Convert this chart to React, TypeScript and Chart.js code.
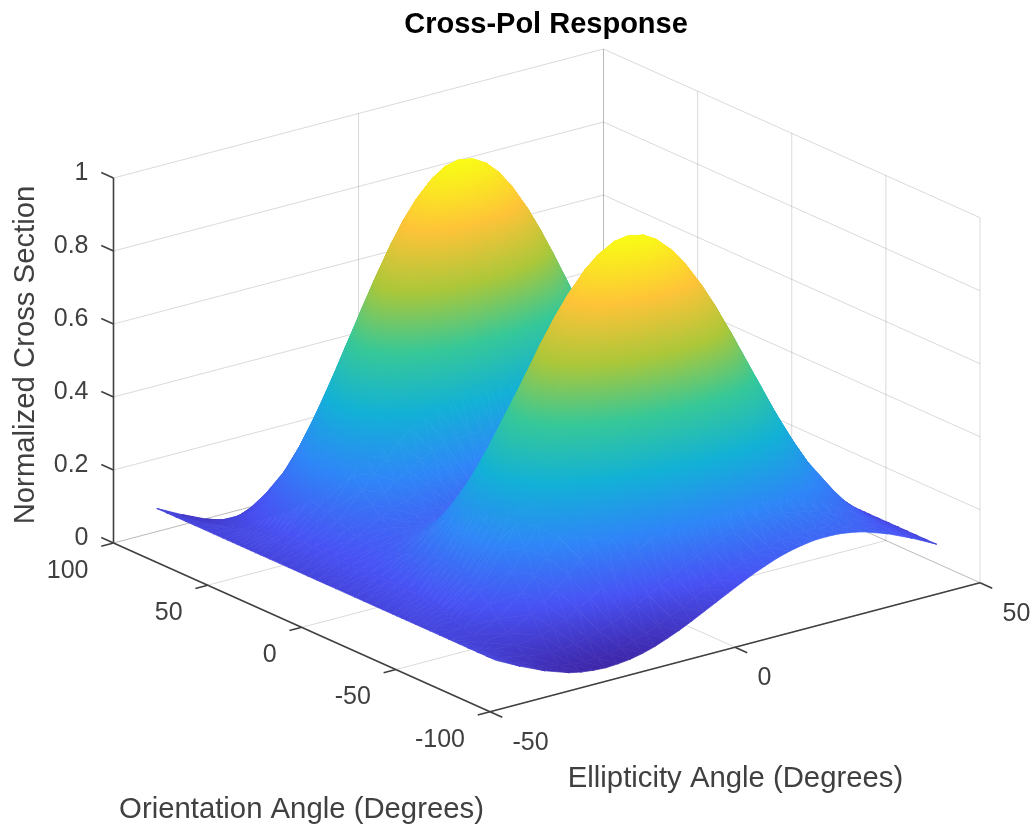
import React, { useEffect, useRef } from "react";
import { Chart, registerables } from "chart.js";

Chart.register(...registerables);

const CHART_TITLE = "Cross-Pol Response";
const Z_LABEL = "Normalized Cross Section";
const ELLIPTICITY_LABEL = "Ellipticity Angle (Degrees)";
const ORIENTATION_LABEL = "Orientation Angle (Degrees)";

const zTicks = [0, 0.2, 0.4, 0.6, 0.8, 1];
const orientationTicks = [100, 50, 0, -50, -100];
const ellipticityTicks = [-50, 0, 50];

// Ellipticity samples (columns of the surface): closer together where the surface curves most.
const ellipticityAngles = [-45, -40, -35, -30, -27.5, -25, -22.5, -20, -17.5, -15, -12.5, -10, -7.5, -5, -2.5, 0, 2.5, 5, 7.5, 10, 12.5, 15, 17.5, 20, 22.5, 25, 27.5, 30, 35, 40, 45];

// Surface height along the ellipticity direction, one row per orientation angle.
const z90 = [0.1, 0.066, 0.036, 0.013, 0.006, 0.002, 0, 0.002, 0.006, 0.013, 0.023, 0.036, 0.05, 0.066, 0.083, 0.1, 0.117, 0.134, 0.15, 0.164, 0.177, 0.187, 0.194, 0.199, 0.2, 0.199, 0.194, 0.187, 0.164, 0.134, 0.1];
const z85 = [0.1, 0.067, 0.04, 0.022, 0.016, 0.014, 0.015, 0.019, 0.026, 0.035, 0.047, 0.061, 0.076, 0.093, 0.11, 0.127, 0.144, 0.16, 0.175, 0.187, 0.198, 0.206, 0.211, 0.213, 0.212, 0.208, 0.201, 0.192, 0.167, 0.135, 0.1];
const z80 = [0.1, 0.071, 0.052, 0.045, 0.046, 0.051, 0.059, 0.069, 0.082, 0.098, 0.115, 0.133, 0.151, 0.17, 0.188, 0.205, 0.221, 0.234, 0.245, 0.253, 0.259, 0.26, 0.259, 0.254, 0.247, 0.236, 0.223, 0.208, 0.173, 0.135, 0.1];
const z75 = [0.1, 0.077, 0.071, 0.081, 0.093, 0.108, 0.126, 0.147, 0.17, 0.194, 0.219, 0.243, 0.267, 0.289, 0.308, 0.325, 0.338, 0.348, 0.353, 0.354, 0.351, 0.344, 0.332, 0.317, 0.299, 0.278, 0.255, 0.231, 0.182, 0.136, 0.1];
const z70 = [0.1, 0.085, 0.094, 0.127, 0.15, 0.178, 0.209, 0.243, 0.278, 0.313, 0.347, 0.379, 0.409, 0.435, 0.456, 0.472, 0.482, 0.487, 0.485, 0.478, 0.464, 0.445, 0.422, 0.394, 0.363, 0.329, 0.294, 0.259, 0.193, 0.137, 0.1];
const z65 = [0.1, 0.094, 0.121, 0.176, 0.213, 0.255, 0.3, 0.347, 0.394, 0.44, 0.485, 0.525, 0.561, 0.59, 0.613, 0.628, 0.635, 0.634, 0.625, 0.608, 0.583, 0.552, 0.515, 0.473, 0.428, 0.381, 0.334, 0.288, 0.203, 0.138, 0.1];
const z60 = [0.1, 0.103, 0.147, 0.226, 0.275, 0.33, 0.388, 0.447, 0.506, 0.563, 0.616, 0.664, 0.705, 0.738, 0.761, 0.775, 0.779, 0.772, 0.755, 0.728, 0.693, 0.65, 0.6, 0.546, 0.488, 0.428, 0.369, 0.312, 0.211, 0.137, 0.1];
const z55 = [0.1, 0.112, 0.171, 0.269, 0.329, 0.395, 0.463, 0.533, 0.601, 0.666, 0.727, 0.78, 0.824, 0.859, 0.883, 0.895, 0.895, 0.883, 0.859, 0.824, 0.779, 0.726, 0.665, 0.6, 0.532, 0.462, 0.394, 0.328, 0.215, 0.136, 0.1];
const z52 = [0.1, 0.116, 0.182, 0.288, 0.352, 0.421, 0.494, 0.567, 0.639, 0.707, 0.77, 0.825, 0.871, 0.906, 0.929, 0.94, 0.938, 0.923, 0.896, 0.858, 0.81, 0.752, 0.688, 0.618, 0.546, 0.472, 0.401, 0.332, 0.215, 0.134, 0.1];
const z50 = [0.1, 0.12, 0.191, 0.303, 0.371, 0.443, 0.519, 0.595, 0.669, 0.74, 0.804, 0.86, 0.906, 0.941, 0.963, 0.973, 0.969, 0.953, 0.923, 0.882, 0.83, 0.77, 0.702, 0.629, 0.554, 0.478, 0.403, 0.333, 0.213, 0.132, 0.1];
const z47 = [0.1, 0.124, 0.199, 0.316, 0.386, 0.46, 0.538, 0.616, 0.691, 0.762, 0.827, 0.883, 0.929, 0.963, 0.985, 0.993, 0.988, 0.969, 0.938, 0.894, 0.84, 0.778, 0.708, 0.633, 0.555, 0.478, 0.402, 0.331, 0.21, 0.13, 0.1];
const z45 = [0.1, 0.127, 0.205, 0.325, 0.396, 0.472, 0.55, 0.628, 0.704, 0.775, 0.839, 0.895, 0.94, 0.973, 0.993, 1, 0.993, 0.973, 0.94, 0.895, 0.839, 0.775, 0.704, 0.628, 0.55, 0.472, 0.396, 0.325, 0.205, 0.127, 0.1];

// The surface looks the same under a quarter turn of orientation with ellipticity flipped.
const flipped = (row: number[]) => [...row].reverse();

// Orientation samples (rows of the surface), far edge first; mirror-symmetric about 0.
const orientationAngles = [90, 85, 80, 75, 70, 65, 60, 55, 52.5, 50, 47.5, 45, 42.5, 40, 37.5, 35, 30, 25, 20, 15, 10, 5, 0, -5, -10, -15, -20, -25, -30, -35, -37.5, -40, -42.5, -45, -47.5, -50, -52.5, -55, -60, -65, -70, -75, -80, -85, -90];
const upperRows = [z90, z85, z80, z75, z70, z65, z60, z55, z52, z50, z47, z45, flipped(z47), flipped(z50), flipped(z52), flipped(z55), flipped(z60), flipped(z65), flipped(z70), flipped(z75), flipped(z80), flipped(z85), flipped(z90)];
const surfaceRows = [...upperRows, ...upperRows.slice(0, -1).reverse()];

// Parula colour map anchors.
const parulaAnchors = [
  [62, 38, 168], [72, 82, 244], [46, 135, 247], [18, 177, 214],
  [55, 200, 151], [171, 199, 57], [254, 195, 56], [249, 251, 21],
];

const WIDTH = 1033;
const HEIGHT = 827;
const TITLE_SIZE = 29;
const TITLE_PAD_TOP = 8;
const TITLE_PAD_BOTTOM = 2;
const TITLE_BLOCK = TITLE_PAD_TOP + TITLE_PAD_BOTTOM + TITLE_SIZE * 1.2;
const LEFT_PAD = 59;

const FONT = '"Liberation Sans", Arial, sans-serif';
const AXIS_COLOR = "#404040";
const GRID_COLOR = "rgba(38,38,38,0.17)";
const TICK_FONT_SIZE = 25;
const LABEL_FONT_SIZE = 29.3;

// Oblique projection of the axes box onto the flat plotting plane.
const FRONT = { x: 490, y: 711.7 };
const ORIENT_VEC = { x: -376.5, y: -168.7 }; // orientation -100 -> 100
const ELLIP_VEC = { x: 490, y: -129 }; // ellipticity -50 -> 50
const Z_LEN = 365;

function project(psi: number, chi: number, z: number) {
  const a = (psi + 100) / 200;
  const b = (chi + 50) / 100;
  return {
    x: FRONT.x + a * ORIENT_VEC.x + b * ELLIP_VEC.x,
    y: FRONT.y + a * ORIENT_VEC.y + b * ELLIP_VEC.y - z * Z_LEN,
  };
}

function parula(t: number) {
  const v = Math.max(0, Math.min(1, t)) * (parulaAnchors.length - 1);
  const i = Math.min(parulaAnchors.length - 2, Math.floor(v));
  const f = v - i;
  const c = parulaAnchors[i].map((u, k) => Math.round(u + (parulaAnchors[i + 1][k] - u) * f));
  return `rgb(${c[0]},${c[1]},${c[2]})`;
}

function lineSet(p: { x: number; y: number }[], color: string, width: number) {
  return {
    data: p,
    showLine: true,
    fill: false,
    borderColor: color,
    borderWidth: width,
    pointRadius: 0,
    pointHoverRadius: 0,
    tension: 0,
    clip: false,
  };
}

function triangleSet(v: [number, number][], zs: number[]) {
  const pts = v.map(([r, c], i) => project(orientationAngles[r], ellipticityAngles[c], zs[i]));
  return {
    data: [...pts, pts[0]],
    showLine: true,
    fill: "shape",
    borderWidth: 0.7,
    pointRadius: 0,
    pointHoverRadius: 0,
    pointBackgroundColor: "transparent",
    pointBorderColor: "transparent",
    tension: 0,
    clip: false,
    vertexZ: zs,
    backgroundColor: parula(zs[0]),
    borderColor: parula(zs[0]),
  };
}

function makeGradient(ctx: CanvasRenderingContext2D, p: { x: number; y: number }[], zs: number[]) {
  const dx1 = p[1].x - p[0].x, dy1 = p[1].y - p[0].y;
  const dx2 = p[2].x - p[0].x, dy2 = p[2].y - p[0].y;
  const dz1 = zs[1] - zs[0], dz2 = zs[2] - zs[0];
  const det = dx1 * dy2 - dx2 * dy1;
  const zMin = Math.min(...zs), zMax = Math.max(...zs);
  if (Math.abs(det) < 1e-6 || zMax - zMin < 1e-4) return parula((zMin + zMax) / 2);
  const gx = (dz1 * dy2 - dz2 * dy1) / det;
  const gy = (dx1 * dz2 - dx2 * dz1) / det;
  const g2 = gx * gx + gy * gy;
  const sA = (zMin - zs[0]) / g2, sB = (zMax - zs[0]) / g2;
  const grad = ctx.createLinearGradient(p[0].x + gx * sA, p[0].y + gy * sA, p[0].x + gx * sB, p[0].y + gy * sB);
  grad.addColorStop(0, parula(zMin));
  const n = parulaAnchors.length - 1;
  for (let i = 1; i < n; i++) {
    const t = i / n;
    if (t > zMin && t < zMax) grad.addColorStop((t - zMin) / (zMax - zMin), parula(t));
  }
  grad.addColorStop(1, parula(zMax));
  return grad;
}

const surfaceShading = {
  id: "surfaceShading",
  beforeDatasetsUpdate(chart: any) {
    const { ctx, scales } = chart;
    for (const ds of chart.data.datasets) {
      if (!ds.vertexZ) continue;
      const px = ds.data.slice(0, 3).map((q: any) => ({
        x: scales.x.getPixelForValue(q.x),
        y: scales.y.getPixelForValue(q.y),
      }));
      const g = makeGradient(ctx, px, ds.vertexZ);
      ds.backgroundColor = g;
      ds.borderColor = g;
    }
  },
};

const axisText = {
  id: "axisText",
  afterDraw(chart: any) {
    const { ctx, scales } = chart;
    const put = (text: string, p: { x: number; y: number }, dx: number, dy: number, align: CanvasTextAlign) => {
      ctx.textAlign = align;
      ctx.fillText(text, scales.x.getPixelForValue(p.x) + dx, scales.y.getPixelForValue(p.y) + dy);
    };
    ctx.save();
    ctx.fillStyle = AXIS_COLOR;
    ctx.textBaseline = "middle";
    ctx.font = `${TICK_FONT_SIZE}px ${FONT}`;
    zTicks.forEach((t) => put(String(t), project(100, -50, t), -25, -4.5, "right"));
    orientationTicks.forEach((t) => put(String(t), project(t, -50, 0), -25, 28, "right"));
    ellipticityTicks.forEach((t) => put(String(t), project(-100, t, 0), 22.5, 31, "left"));
    ctx.font = `${LABEL_FONT_SIZE}px ${FONT}`;
    ctx.textAlign = "center";
    ctx.fillText(ELLIPTICITY_LABEL, 735.5, 779);
    ctx.fillText(ORIENTATION_LABEL, 301.5, 810);
    ctx.translate(26, 355);
    ctx.rotate(-Math.PI / 2);
    ctx.fillText(Z_LABEL, 0, 0);
    ctx.restore();
  },
};

function buildDatasets() {
  const sets: any[] = [];
  // grid on the floor and on the two back walls
  zTicks.forEach((t) => {
    sets.push(lineSet([project(100, -50, t), project(100, 50, t)], GRID_COLOR, 1));
    sets.push(lineSet([project(100, 50, t), project(-100, 50, t)], GRID_COLOR, 1));
  });
  ellipticityTicks.forEach((t) => {
    sets.push(lineSet([project(100, t, 0), project(100, t, 1)], GRID_COLOR, 1));
    sets.push(lineSet([project(100, t, 0), project(-100, t, 0)], GRID_COLOR, 1));
  });
  orientationTicks.forEach((t) => {
    sets.push(lineSet([project(t, 50, 0), project(t, 50, 1)], GRID_COLOR, 1));
    sets.push(lineSet([project(t, -50, 0), project(t, 50, 0)], GRID_COLOR, 1));
  });
  // axes and tick marks
  sets.push(lineSet([project(100, -50, 0), project(100, -50, 1)], AXIS_COLOR, 1.6));
  sets.push(lineSet([project(100, -50, 0), project(-100, -50, 0)], AXIS_COLOR, 1.6));
  sets.push(lineSet([project(-100, -50, 0), project(-100, 50, 0)], AXIS_COLOR, 1.6));
  zTicks.forEach((t) => sets.push(lineSet([project(100, -50, t), project(106.5, -50, t)], AXIS_COLOR, 1.6)));
  orientationTicks.forEach((t) => sets.push(lineSet([project(t, -50, 0), project(t, -52.5, 0)], AXIS_COLOR, 1.6)));
  ellipticityTicks.forEach((t) => sets.push(lineSet([project(-100, t, 0), project(-106.5, t, 0)], AXIS_COLOR, 1.6)));
  // surface, painted from the far corner to the near corner
  for (let r = 0; r < surfaceRows.length - 1; r++) {
    for (let c = ellipticityAngles.length - 2; c >= 0; c--) {
      const a = surfaceRows[r][c], b = surfaceRows[r][c + 1];
      const d = surfaceRows[r + 1][c], e = surfaceRows[r + 1][c + 1];
      sets.push(triangleSet([[r, c], [r, c + 1], [r + 1, c + 1]], [a, b, e]));
      sets.push(triangleSet([[r, c], [r + 1, c + 1], [r + 1, c]], [a, e, d]));
    }
  }
  // Chart.js paints the first dataset last
  return sets.reverse();
}

export default function App() {
  const ref = useRef<HTMLCanvasElement>(null);
  useEffect(() => {
    document.body.style.margin = "0";
    const chart = new Chart(ref.current as HTMLCanvasElement, {
      type: "scatter",
      data: { datasets: buildDatasets() },
      plugins: [surfaceShading, axisText],
      options: {
        responsive: false,
        animation: false,
        events: [],
        layout: { padding: { left: LEFT_PAD } },
        scales: {
          x: { type: "linear", display: false, min: LEFT_PAD, max: WIDTH },
          y: { type: "linear", display: false, min: TITLE_BLOCK, max: HEIGHT, reverse: true },
        },
        plugins: {
          legend: { display: false },
          tooltip: { enabled: false },
          title: {
            display: true,
            text: CHART_TITLE,
            color: "#000000",
            font: { family: FONT, size: TITLE_SIZE, weight: "bold", lineHeight: 1.2 },
            padding: { top: TITLE_PAD_TOP, bottom: TITLE_PAD_BOTTOM },
          },
        },
      },
    } as any);
    return () => chart.destroy();
  }, []);
  return <canvas ref={ref} width={WIDTH} height={HEIGHT} style={{ display: "block", filter: "blur(0.5px)" }} />;
}
